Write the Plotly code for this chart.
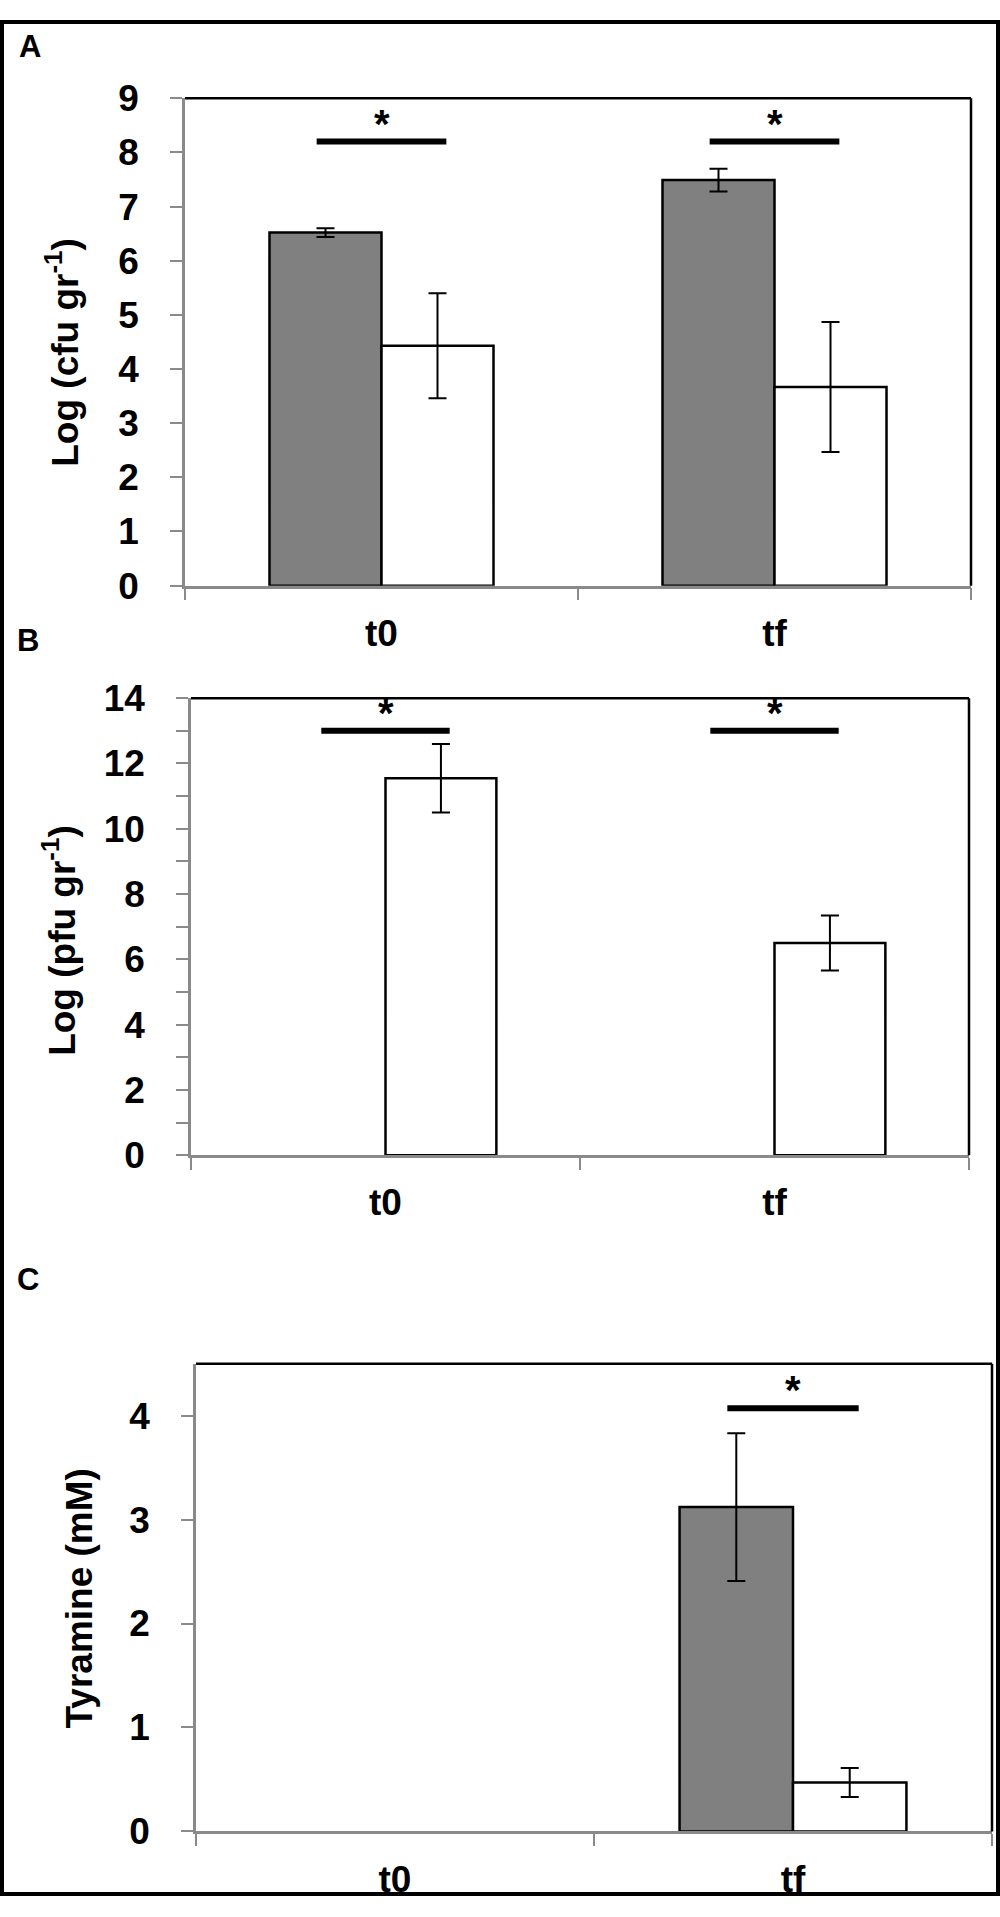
import plotly.graph_objects as go

# ---------------- data ----------------
categories = ["t0", "tf"]

# Panel A: Log (cfu gr-1)
a_gray = [6.52, 7.49]
a_gray_err = [0.08, 0.21]
a_white = [4.43, 3.67]
a_white_err = [0.97, 1.20]
a_sig_y = [8.2, 8.2]          # height of the significance bars
a_sig_cat = [0, 1]

# Panel B: Log (pfu gr-1)
b_gray = [0, 0]
b_gray_err = [0, 0]
b_white = [11.55, 6.50]
b_white_err = [1.05, 0.84]
b_sig_y = [13.0, 13.0]
b_sig_cat = [0, 1]

# Panel C: Tyramine (mM)
c_gray = [0, 3.12]
c_gray_err = [0, 0.71]
c_white = [0, 0.47]
c_white_err = [0, 0.14]
c_sig_y = [4.07]
c_sig_cat = [1]

a_ticks = list(range(0, 10))
b_ticks = list(range(0, 15, 2))
c_ticks = list(range(0, 5))

# ---------------- layout helpers ----------------
W, H = 1000, 1917
GRAY_AXIS = "#8a8a8a"
TICKFONT = dict(family="Liberation Sans Narrow, Arial Narrow, Liberation Sans, Arial",
                size=37, color="black", weight="bold")
LABELFONT = dict(family="Liberation Sans, Arial", size=37, color="black", weight="bold")


def px_x(p):
    return p / W


def px_y(p):
    return 1 - p / H


def drop_zero(vals):
    # zero bars are not drawn in the original (no outline, no error cap)
    return [v if v else None for v in vals]


# plot-area boxes in pixels: left, right, top, bottom
boxes = {
    1: (185, 971, 80, 578),
    2: (191, 969, 693, 1160),
    3: (196, 992, 1373, 1851),
}

fig = go.Figure()

panels = [
    (1, a_gray, a_gray_err, a_white, a_white_err),
    (2, b_gray, b_gray_err, b_white, b_white_err),
    (3, c_gray, c_gray_err, c_white, c_white_err),
]

for n, gray, gerr, white, werr in panels:
    xa = "x" if n == 1 else "x%d" % n
    ya = "y" if n == 1 else "y%d" % n
    fig.add_trace(go.Bar(x=categories, y=drop_zero(gray), xaxis=xa, yaxis=ya,
                         marker=dict(color="#808080", line=dict(color="black", width=2.5)),
                         error_y=dict(type="data", array=gerr, color="black", thickness=2, width=9,
                                      visible=True),
                         offsetgroup="g", showlegend=False))
    fig.add_trace(go.Bar(x=categories, y=drop_zero(white), xaxis=xa, yaxis=ya,
                         marker=dict(color="white", line=dict(color="black", width=2.5)),
                         error_y=dict(type="data", array=werr, color="black", thickness=2, width=9,
                                      visible=True),
                         offsetgroup="w", showlegend=False))

ranges = {1: [0, 9], 2: [0, 14], 3: [0, 4.5]}
tickvals = {1: a_ticks, 2: b_ticks, 3: c_ticks}

layout = dict(width=W, height=H, margin=dict(l=0, r=0, t=0, b=0),
              paper_bgcolor="white", plot_bgcolor="white",
              barmode="group", bargap=0.43, bargroupgap=0)

for n, (l, r, t, b) in boxes.items():
    sfx = "" if n == 1 else str(n)
    layout["xaxis" + sfx] = dict(
        domain=[px_x(l), px_x(r)], anchor="y" + sfx, type="category",
        range=[-0.5, 1.5], showline=True, linecolor=GRAY_AXIS, linewidth=2.5,
        ticks="outside", tickson="boundaries", ticklen=12, tickwidth=2, tickcolor=GRAY_AXIS,
        tickfont=TICKFONT, ticklabelstandoff=13, showgrid=False, zeroline=False)
    yax = dict(
        domain=[px_y(b), px_y(t)], anchor="x" + sfx, range=ranges[n],
        tickvals=tickvals[n], showline=True, linecolor=GRAY_AXIS, linewidth=2.5,
        ticks="outside", ticklen=12, tickwidth=2, tickcolor=GRAY_AXIS,
        tickfont=TICKFONT, ticklabelstandoff=24, showgrid=False, zeroline=False)
    if n == 2:
        yax["minor"] = dict(ticks="outside", dtick=1, ticklen=12, tickwidth=2,
                            tickcolor=GRAY_AXIS, showgrid=False)
    layout["yaxis" + sfx] = yax

fig.update_layout(**layout)

# black top / right border of each plot area
for n in boxes:
    sfx = "" if n == 1 else str(n)
    fig.add_shape(type="line", xref="x%s domain" % sfx, yref="y%s domain" % sfx,
                  x0=0, x1=1, y0=1, y1=1, line=dict(color="black", width=2.5))
    fig.add_shape(type="line", xref="x%s domain" % sfx, yref="y%s domain" % sfx,
                  x0=1, x1=1, y0=0, y1=1, line=dict(color="black", width=2.5))

# significance bars and asterisks
sig_half = 0.165
for n, cats, ys in [(1, a_sig_cat, a_sig_y), (2, b_sig_cat, b_sig_y), (3, c_sig_cat, c_sig_y)]:
    sfx = "" if n == 1 else str(n)
    for c, yv in zip(cats, ys):
        fig.add_shape(type="line", xref="x" + sfx, yref="y" + sfx,
                      x0=c - sig_half, x1=c + sig_half, y0=yv, y1=yv,
                      line=dict(color="black", width=6))
        fig.add_annotation(xref="x" + sfx, yref="y" + sfx, x=c, y=yv, text="*",
                           showarrow=False, yanchor="middle", yshift=18,
                           font=dict(family="Liberation Sans, Arial", size=40,
                                     color="black", weight="bold"))

# y-axis titles
titles = [
    ("Log (cfu gr<sup>-1</sup>)", 63, 340),
    ("Log (pfu gr<sup>-1</sup>)", 60, 941),
    ("Tyramine (mM)", 80, 1613),
]
for txt, xp, yp in titles:
    fig.add_annotation(xref="paper", yref="paper", x=px_x(xp), y=px_y(yp), text=txt,
                       textangle=-90, showarrow=False, xanchor="center", yanchor="middle",
                       font=LABELFONT)

# panel letters
for txt, xp, yp in [("A", 30, 27), ("B", 28, 634), ("C", 28, 1287)]:
    fig.add_annotation(xref="paper", yref="paper", x=px_x(xp), y=px_y(yp), text=txt,
                       showarrow=False, xanchor="center", yanchor="middle",
                       font=dict(family="Liberation Sans, Arial", size=31,
                                 color="black", weight="bold"))

# outer frame of the figure
fig.add_shape(type="rect", xref="paper", yref="paper",
              x0=px_x(2), x1=px_x(998), y0=px_y(1915), y1=px_y(2),
              line=dict(color="black", width=4))

# remove the default page margin so the figure sits at the window corner
fig.write_html("out.html", config={"displayModeBar": False},
               post_script="document.body.style.margin='0';document.body.style.overflow='hidden';")
